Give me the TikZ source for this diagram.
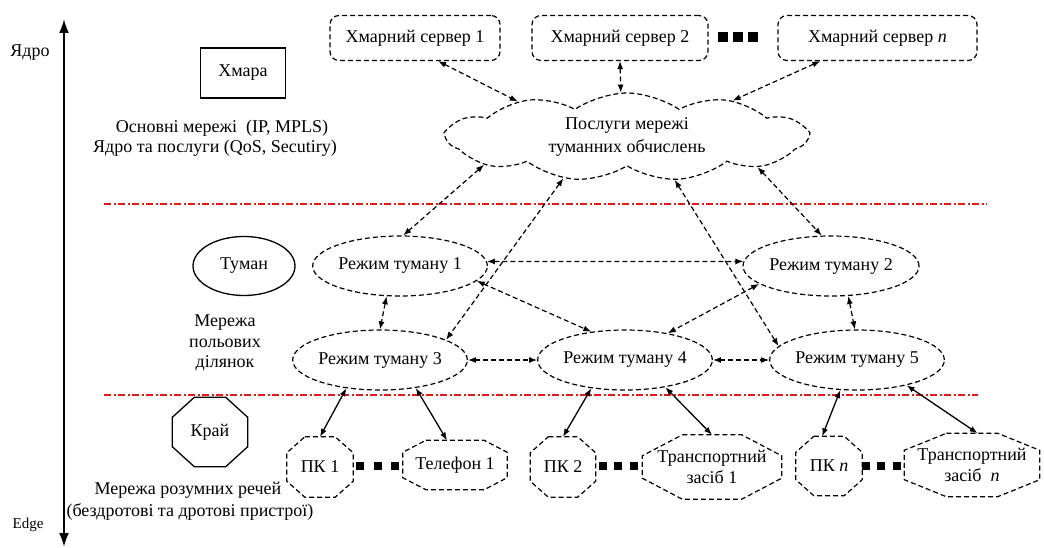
\documentclass[tikz,border=0pt]{standalone}
\usepackage{fontspec}
\setmainfont{Liberation Serif}
\usetikzlibrary{arrows.meta,shapes.geometric,shapes.symbols,calc}

\tikzset{
  txt/.style={font=\fontsize{18}{21}\selectfont, align=center, inner sep=0pt},
  dsh/.style={dash pattern=on 5pt off 3pt, line width=1.2pt},
  srv/.style={txt, draw, dsh, rounded corners=9pt, minimum height=45, minimum width=#1},
  fog/.style={txt, ellipse, draw, dsh, minimum width=#1, minimum height=60},
  dconn/.style={dsh, {Latex[length=8pt,width=6pt]}-{Latex[length=8pt,width=6pt]}},
  sconn/.style={line width=1.3pt, {Latex[length=8pt,width=6pt]}-{Latex[length=8pt,width=6pt]}},
  redline/.style={draw={rgb,255:red,225;green,25;blue,25}, line width=2.8pt, dash pattern=on 7pt off 2.5pt on 2pt off 2.5pt},
  sqbig/.style={fill, minimum size=10, inner sep=0pt},
  sqsm/.style={fill, minimum size=7.5, inner sep=0pt}
}

\newcommand{\octshape}[8][]{%
  \node[txt, minimum width=#4, minimum height=#5] (#2) at (#3) {#8};
  \draw[line width=1.2pt,#1] ($(#2.north west)+(#6,0)$) -- ($(#2.north east)+(-#6,0)$)
    -- ($(#2.north east)+(0,#7)$) -- ($(#2.south east)+(0,-#7)$)
    -- ($(#2.south east)+(-#6,0)$) -- ($(#2.south west)+(#6,0)$)
    -- ($(#2.south west)+(0,-#7)$) -- ($(#2.north west)+(0,#7)$) -- cycle;}

\begin{document}
\begin{tikzpicture}[x=1pt,y=-1pt]
\useasboundingbox (0,0) rectangle (1044,548);

% vertical axis
\coordinate (axtop) at (64,19);
\coordinate (axbot) at (64,547);
\draw[line width=2.3pt, {Latex[length=14pt,width=10pt]}-{Latex[length=14pt,width=10pt]}] (axbot) -- (axtop);
\node[txt] (lcore) at (30,53) {Ядро};
\node[txt, font=\fontsize{15}{18}\selectfont] (ledge) at (28,525) {Edge};

% legend
\node[txt, draw, line width=1.3pt, minimum width=85, minimum height=50] (lcloud) at (243,73) {Хмара};
\node[txt] (core1) at (222,128) {Основні мережі~ (IP, MPLS)};
\node[txt] (core2) at (215,148) {Ядро та послуги (QoS, Secutiry)};

\node[txt, ellipse, draw, line width=1.3pt, minimum width=102, minimum height=59] (lfog) at (244,266) {Туман};
\node[txt, font=\fontsize{18}{20.5}\selectfont] (fognet) at (225,343) {Мережа\\польових\\ділянок};

\octshape[line width=1.3pt]{ledgebox}{210,432}{75}{69}{22}{20}{Край}
\node[txt] (iot1) at (188,490) {Мережа розумних речей};
\node[txt] (iot2) at (190,512) {(бездротові та дротові пристрої)};

% separators
\coordinate (r1a) at (104,204);
\coordinate (r1b) at (987,204);
\coordinate (r2a) at (104,395);
\coordinate (r2b) at (978,395);
\draw[redline] (r1a) -- (r1b);
\draw[redline] (r2a) -- (r2b);

% cloud servers
\node[srv=170] (s1) at (415,38) {Хмарний сервер 1};
\node[srv=176] (s2) at (620,38) {Хмарний сервер 2};
\node[srv=199] (sn) at (877.5,38) {Хмарний сервер \textit{n}};
\node[sqbig] (q1) at (723,37) {};
\node[sqbig] (q2) at (738,37) {};
\node[sqbig] (q3) at (753,37) {};

% fog service cloud
\node[txt, cloud, draw, dsh, cloud puffs=11, cloud puff arc=70, cloud ignores aspect,
      minimum width=360, minimum height=88, font=\fontsize{18}{23}\selectfont] (svc) at (627,137)
      {Послуги мережі\\туманних обчислень};

% fog nodes
\node[fog=173] (f1) at (400,266) {Режим туману 1};
\node[fog=176] (f2) at (831,266) {Режим туману 2};
\node[fog=170] (f3) at (380,360) {Режим туману 3};
\node[fog=174] (f4) at (625,360) {Режим туману 4};
\node[fog=169] (f5) at (857,360) {Режим туману 5};

% devices
\octshape[dsh]{pc1}{320,467}{66}{60}{18}{16}{ПК 1}
\octshape[dsh]{tel1}{455,465}{104}{49}{23}{12}{Телефон 1}
\octshape[dsh]{pc2}{563,467}{65}{60}{18}{16}{ПК 2}
\octshape[dsh]{tr1}{712,467}{139}{64}{40}{21}{Транспортний\\засіб 1}
\octshape[dsh]{pcn}{829,466}{66}{59}{18}{16}{ПК \textit{n}}
\octshape[dsh]{trn}{972,465}{135}{63}{42}{17}{Транспортний\\засіб~ \textit{n}}
\node[sqsm] (d1) at (360,466) {};
\node[sqsm] (d2) at (378,466) {};
\node[sqsm] (d3) at (395,466) {};
\node[sqsm] (d4) at (603,466) {};
\node[sqsm] (d5) at (618,466) {};
\node[sqsm] (d6) at (634,466) {};
\node[sqsm] (d7) at (866,466) {};
\node[sqsm] (d8) at (881,466) {};
\node[sqsm] (d9) at (897,466) {};

% connectors: servers - cloud
\draw[dconn] (s1.-45) -- (svc.162);
\draw[dconn] (s2.south) -- (svc.98);
\draw[dconn] (sn.-158) -- (svc.19);
% cloud - fog
\draw[dconn] (svc.-169) -- (f1.84);
\draw[dconn] (svc.-147) -- (f3.17);
\draw[dconn] (svc.-42) -- (f5.170);
\draw[dconn] (svc.-13) -- (f2.107);
% fog - fog
\draw[dconn] (f1.3) -- (f2.177);
\draw[dconn] (f1.-11) -- (f4.140);
\draw[dconn] (f1.-114) -- (f3.90);
\draw[dconn] (f2.-166) -- (f4.32);
\draw[dconn] (f2.-60) -- (f5.94);
\draw[dconn] (f3.east) -- (f4.west);
\draw[dconn] (f4.east) -- (f5.west);
% fog - devices
\draw[sconn] (f3.-140) -- (pc1.north);
\draw[sconn] (f3.-38) -- (tel1.108);
\draw[sconn] (f4.-140) -- (pc2.north);
\draw[sconn] (f4.-34) -- (tr1.north);
\draw[sconn] (f5.-119) -- (pcn.103);
\draw[sconn] (f5.-27) -- (trn.80);
\end{tikzpicture}
\end{document}
